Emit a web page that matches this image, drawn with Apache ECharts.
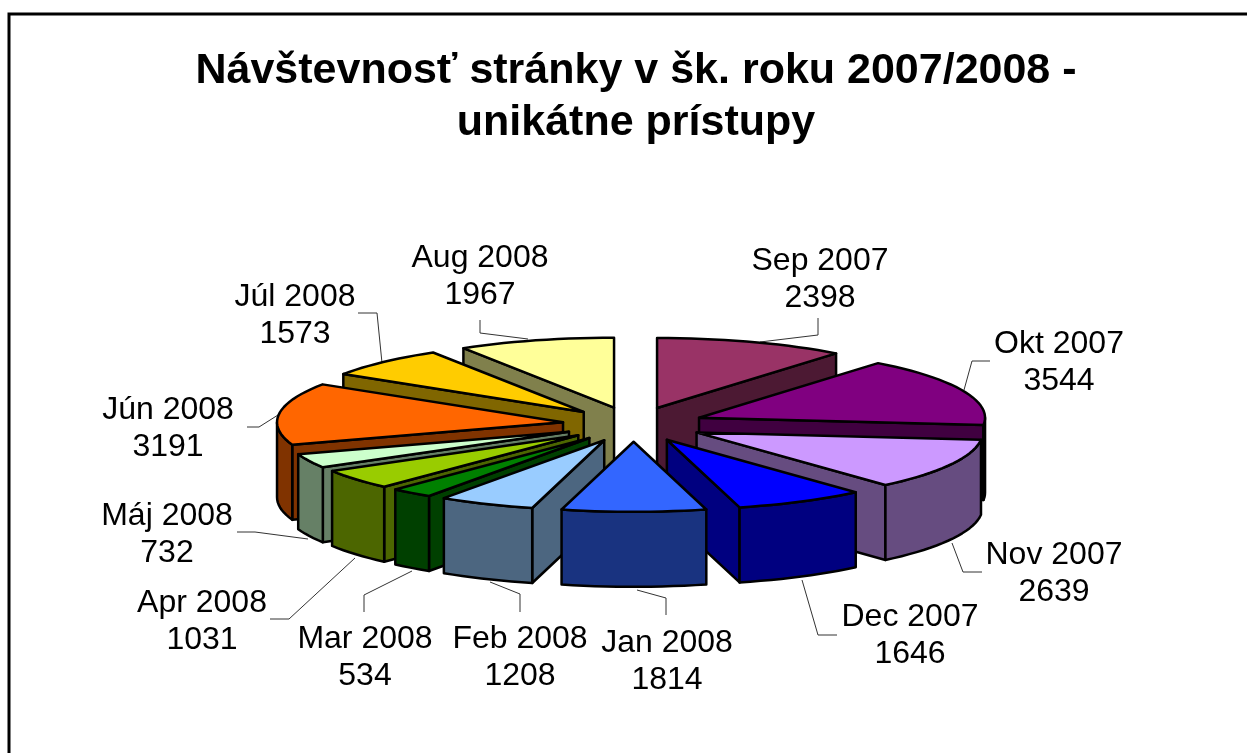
<!DOCTYPE html>
<html>
<head>
<meta charset="utf-8">
<title>Návštevnosť stránky</title>
<style>
  html, body { margin: 0; padding: 0; background: #fff; }
  #main { width: 1247px; height: 753px; }
</style>
<script src="https://cdn.jsdelivr.net/npm/echarts@6/dist/echarts.min.js"></script>
</head>
<body>
<div id="main"></div>
<script>
// data
const categories = ["Sep 2007", "Okt 2007", "Nov 2007", "Dec 2007", "Jan 2008", "Feb 2008", "Mar 2008", "Apr 2008", "Máj 2008", "Jún 2008", "Júl 2008", "Aug 2008"];
const visits = [2398, 3544, 2639, 1646, 1814, 1208, 534, 1031, 732, 3191, 1573, 1967];

// top and side colour of each slice
const topColors = ["#993366", "#800080", "#CC99FF", "#0000FF", "#3366FF", "#99CCFF", "#008000", "#99CC00", "#CCFFCC", "#FF6600", "#FFCC00", "#FFFF99"];
const sideColors = ["#4C1933", "#400040", "#664C80", "#000080", "#193380", "#4C6680", "#004000", "#4C6600", "#668066", "#803300", "#806600", "#80804C"];

// label centre (first line) and leader line of each slice
const labelPos = [[820, 259], [1059, 342], [1054, 553], [910, 615], [667, 641], [520, 637], [365, 637], [202, 601], [167, 514], [168, 408], [295, 295], [480, 256]];
const leaders = [
  [[818, 318], [818, 335], [760, 342]],
  [[990, 361], [972, 361], [964, 390]],
  [[952, 543], [963, 572], [982, 572]],
  [[802, 580], [818, 635], [837, 635]],
  [[637, 590], [666, 598], [666, 615]],
  [[490, 582], [520, 594], [520, 612]],
  [[412, 571], [364, 595], [364, 612]],
  [[355, 558], [289, 619], [270, 619]],
  [[308, 539], [255, 532], [237, 532]],
  [[278, 415], [259, 427], [247, 427]],
  [[382, 363], [377, 313], [358, 313]],
  [[528, 339], [480, 333], [480, 320]]
];

// 3d pie geometry
const cx = 633.5, cy = 424.4, rx = 286, ry = 70, depth = 75, explode = 71;
const labelFont = "32px 'Liberation Sans', Arial, sans-serif";

const total = visits.reduce((a, b) => a + b, 0);
const toRad = (v) => (v / total) * Math.PI * 2;

function renderSlice(params, api) {
  const i = params.dataIndex;
  let sum = 0;
  for (let k = 0; k < i; k++) sum += visits[k];
  const a1 = toRad(sum);
  const a2 = toRad(sum + api.value(0));
  const mid = (a1 + a2) / 2;
  // apex of the slice, pushed out along its bisector
  const ox = cx + explode * Math.sin(mid);
  const oy = cy - explode * (ry / rx) * Math.cos(mid);
  const pt = (a) => [ox + rx * Math.sin(a), oy - ry * Math.cos(a)];
  const down = (p) => [p[0], p[1] + depth];

  const arc = [];
  const steps = Math.max(2, Math.ceil((a2 - a1) / 0.04));
  for (let s = 0; s <= steps; s++) arc.push(pt(a1 + ((a2 - a1) * s) / steps));

  // back slices first
  const base = Math.round((1 - Math.cos(mid)) * 100) * 10 + 100;
  const poly = (points, fill, z) => ({
    type: "polygon",
    z2: base + z,
    shape: { points: points },
    style: { fill: fill, stroke: "#000", lineWidth: 2.5, lineJoin: "round" }
  });
  const children = [];
  const apex = [ox, oy];
  const side = sideColors[i];

  // radial walls that face the viewer
  if (Math.sin(a1) < 0) children.push(poly([apex, pt(a1), down(pt(a1)), down(apex)], side, 0));
  if (Math.sin(a2) > 0) children.push(poly([apex, pt(a2), down(pt(a2)), down(apex)], side, 1));

  // outer wall, only the front half of the rim
  const lo = Math.max(a1, Math.PI / 2);
  const hi = Math.min(a2, (Math.PI * 3) / 2);
  if (hi > lo) {
    const rim = [];
    const n = Math.max(2, Math.ceil((hi - lo) / 0.04));
    for (let s = 0; s <= n; s++) rim.push(pt(lo + ((hi - lo) * s) / n));
    children.push(poly(rim.concat(rim.map(down).reverse()), side, 2));
  }

  children.push(poly([apex].concat(arc), topColors[i], 3));

  // leader line and two line label
  children.push({
    type: "polyline",
    z2: 1,
    shape: { points: leaders[i] },
    style: { fill: null, stroke: "#333", lineWidth: 1 }
  });
  const pos = labelPos[i];
  [categories[i], String(api.value(0))].forEach((t, k) => {
    children.push({
      type: "text",
      z2: 5000,
      style: { x: pos[0], y: pos[1] + 2 + k * 37, text: t, font: labelFont, fill: "#000", align: "center", verticalAlign: "middle" }
    });
  });
  return { type: "group", children: children };
}

let myChart = echarts.init(document.getElementById("main"), null, { renderer: "canvas" });
myChart.setOption({
  animation: false,
  backgroundColor: "#fff",
  title: {
    text: "Návštevnosť stránky v šk. roku 2007/2008 -\nunikátne prístupy",
    left: 631,
    top: 40,
    textAlign: "center",
    textStyle: {
      fontFamily: "'Liberation Sans', Arial, sans-serif",
      fontSize: 43,
      fontWeight: "bold",
      color: "#000",
      lineHeight: 52
    }
  },
  graphic: [
    {
      type: "rect",
      shape: { x: 9, y: 14, width: 1300, height: 800 },
      style: { fill: null, stroke: "#000", lineWidth: 3 }
    }
  ],
  series: [
    {
      type: "custom",
      coordinateSystem: "none",
      renderItem: renderSlice,
      encode: { value: 0 },
      data: visits.map((v, i) => ({ name: categories[i], value: [v] }))
    }
  ]
});
window.addEventListener("resize", function () {
  myChart.resize();
});
</script>
</body>
</html>
